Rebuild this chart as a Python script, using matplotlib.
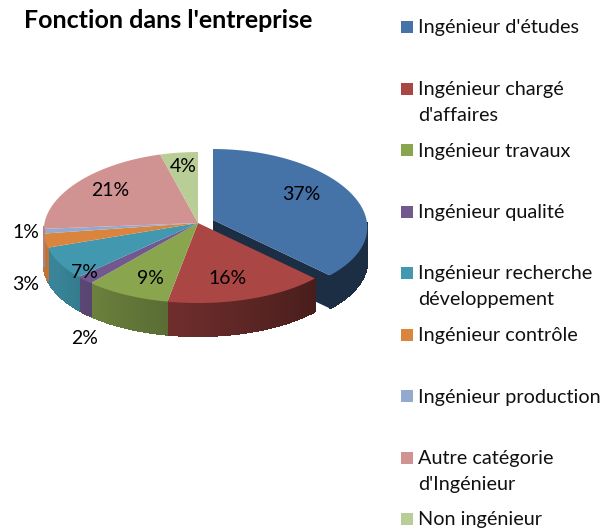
import numpy as np
import matplotlib.pyplot as plt
from matplotlib.colors import to_rgb
from matplotlib.patches import Polygon, Rectangle

plt.rcParams["font.family"] = ["Lato", "DejaVu Sans"]

title = "Fonction dans l'entreprise"
categories = [
    "Ingénieur d'études",
    "Ingénieur chargé\nd'affaires",
    "Ingénieur travaux",
    "Ingénieur qualité",
    "Ingénieur recherche\ndéveloppement",
    "Ingénieur contrôle",
    "Ingénieur production",
    "Autre catégorie\nd'Ingénieur",
    "Non ingénieur",
]
# valeurs estimees d'apres les angles, les etiquettes les arrondissent
values = [37, 16, 8.6, 1.8, 7, 3, 1, 21.4, 4.2]
colors = ["#4572A7", "#AA4643", "#89A54E", "#71588F", "#4198AF",
          "#DB843D", "#93A9CF", "#D19392", "#B9CD96"]
label_pos = [(301, 194), (228, 278), (150, 278), (85, 338), (84, 273),
             (26, 285), (26, 232), (110, 191), (183, 167)]

RX = 154
RY = 75.5
PERSP = 0.06
SIDE_DROP = 3
DEPTH = 33
CENTER = (198, 223)
EXPLODED = (213, 220)


def rim(theta, center):
    """Point du bord, theta en degres depuis le haut, sens horaire."""
    t = np.radians(theta)
    scale = 1 - PERSP * np.cos(t)
    x = center[0] + RX * np.sin(t) * scale
    y = center[1] - RY * np.cos(t) * scale + SIDE_DROP * np.sin(t) ** 2
    return x, y


def side_shade(theta):
    return 0.42 + 0.45 * np.clip((theta - 133) / 110, 0, 1)


def draw_slice(ax, start, end, color, center):
    rgb = np.array(to_rgb(color))
    thetas = np.linspace(start, end, max(int(end - start) * 2, 3))
    x, y = rim(thetas, center)

    # paroi radiale de fin de part (visible seulement pour la part detachee)
    if center == EXPLODED:
        tip = rim(end, center)
        wall = [center, tip, (tip[0], tip[1] + DEPTH), (center[0], center[1] + DEPTH)]
        ax.add_patch(Polygon(wall, fc=rgb * 0.4, ec="none"))

    # paroi exterieure en fines bandes pour le degrade
    for i in range(len(thetas) - 1):
        mid = (thetas[i] + thetas[i + 1]) / 2
        if not 90 <= mid <= 270:
            continue
        strip = [(x[i], y[i]), (x[i + 1], y[i + 1]),
                 (x[i + 1], y[i + 1] + DEPTH), (x[i], y[i] + DEPTH)]
        shade = 0.4 if center == EXPLODED else side_shade(mid)
        ax.add_patch(Polygon(strip, fc=rgb * shade, ec=rgb * shade, lw=0.8,
                             antialiased=False))

    top = [center] + list(zip(x, y))
    ax.add_patch(Polygon(top, fc=color, ec="none"))


def main():
    fig = plt.figure(figsize=(6.11, 5.31), dpi=100)
    ax = fig.add_axes([0, 0, 1, 1])
    ax.set_xlim(0, 611)
    ax.set_ylim(531, 0)
    ax.axis("off")

    bounds = np.cumsum([0] + values) / sum(values) * 360
    for i in range(len(values)):
        center = EXPLODED if i == 0 else CENTER
        draw_slice(ax, bounds[i], bounds[i + 1], colors[i], center)

    for v, (lx, ly) in zip(values, label_pos):
        ax.text(lx, ly, f"{v:.0f}%", fontsize=14, ha="center", va="center", color="black")

    ax.text(24, 20, title, fontsize=18, fontweight="bold", ha="left", va="center")

    for i, (name, color) in enumerate(zip(categories, colors)):
        y = 27 + i * 61.5
        ax.add_patch(Rectangle((401, y - 6), 12, 12, fc=color, ec="none"))
        for j, line in enumerate(name.split("\n")):
            ax.text(418, y + 1 + j * 26, line, fontsize=14.3, ha="left", va="center", color="#111111")

    fig.savefig("out.png", dpi=100)


if __name__ == "__main__":
    main()
